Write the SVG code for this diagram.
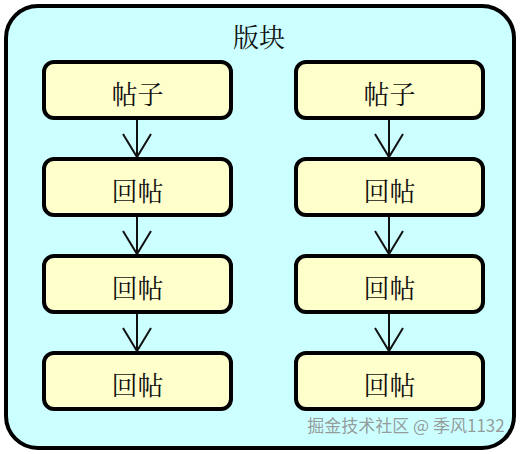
<svg xmlns="http://www.w3.org/2000/svg" width="520" height="454" viewBox="0 0 520 454">
<defs>
<style>
.box{fill:#ffffcc;stroke:#000;stroke-width:4}
.t{font-family:"Noto Serif CJK SC","Noto Sans CJK SC",serif;font-size:26px;fill:#111;text-anchor:middle;dominant-baseline:central}
.c{stroke:#111;stroke-width:2;fill:none}
</style>
<marker id="ah" viewBox="0 0 26 30" refX="24" refY="15" markerWidth="26" markerHeight="30" markerUnits="userSpaceOnUse" orient="auto">
<path d="M1,1 L24,15 L1,29" fill="none" stroke="#111" stroke-width="2"/>
</marker>
</defs>
<g id="board">
<rect x="6" y="6" width="508" height="442" rx="32" fill="#ccffff" stroke="#000" stroke-width="4"/>
<text class="t" x="259" y="35">版块</text>
</g>
<g id="connectors">
<line class="c" x1="137" y1="119" x2="137" y2="157" marker-end="url(#ah)"/>
<line class="c" x1="137" y1="216" x2="137" y2="254" marker-end="url(#ah)"/>
<line class="c" x1="137" y1="313" x2="137" y2="351" marker-end="url(#ah)"/>
<line class="c" x1="389" y1="119" x2="389" y2="157" marker-end="url(#ah)"/>
<line class="c" x1="389" y1="216" x2="389" y2="254" marker-end="url(#ah)"/>
<line class="c" x1="389" y1="313" x2="389" y2="351" marker-end="url(#ah)"/>
</g>
<g id="L1"><rect class="box" x="44" y="62" width="187" height="56" rx="10"/><text class="t" x="137.5" y="92">帖子</text></g>
<g id="L2"><rect class="box" x="44" y="159" width="187" height="56" rx="10"/><text class="t" x="137.5" y="189">回帖</text></g>
<g id="L3"><rect class="box" x="44" y="256" width="187" height="56" rx="10"/><text class="t" x="137.5" y="286">回帖</text></g>
<g id="L4"><rect class="box" x="44" y="353" width="187" height="56" rx="10"/><text class="t" x="137.5" y="383">回帖</text></g>
<g id="R1"><rect class="box" x="296" y="62" width="187" height="56" rx="10"/><text class="t" x="389.5" y="92">帖子</text></g>
<g id="R2"><rect class="box" x="296" y="159" width="187" height="56" rx="10"/><text class="t" x="389.5" y="189">回帖</text></g>
<g id="R3"><rect class="box" x="296" y="256" width="187" height="56" rx="10"/><text class="t" x="389.5" y="286">回帖</text></g>
<g id="R4"><rect class="box" x="296" y="353" width="187" height="56" rx="10"/><text class="t" x="389.5" y="383">回帖</text></g>
<text x="406" y="432" font-family="'Noto Sans CJK SC',sans-serif" font-size="17" fill="#8a8a8a" fill-opacity="0.85" text-anchor="middle">掘金技术社区 @ 季风1132</text>
</svg>
